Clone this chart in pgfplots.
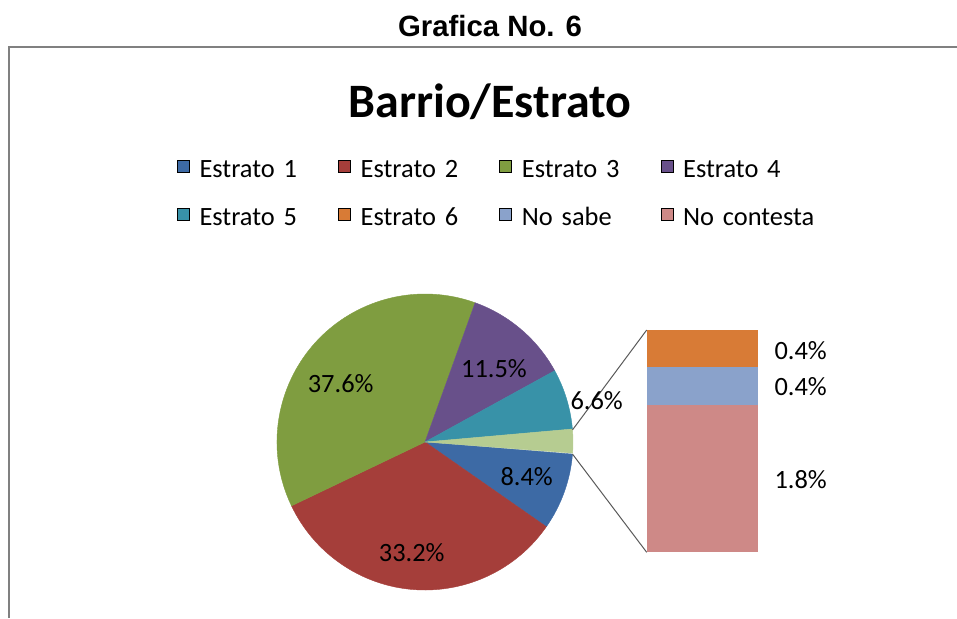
\documentclass[border=0pt]{standalone}
\usepackage{pgfplots}
\pgfplotsset{compat=1.18}
\usepackage{fontspec}
\setmainfont{Carlito}
\newfontfamily\arialfont{Liberation Sans}
\definecolor{c1}{RGB}{61,106,165}
\definecolor{c2}{RGB}{165,62,58}
\definecolor{c3}{RGB}{127,157,64}
\definecolor{c4}{RGB}{104,80,138}
\definecolor{c5}{RGB}{56,146,168}
\definecolor{c6}{RGB}{216,123,54}
\definecolor{c7}{RGB}{138,162,203}
\definecolor{c8}{RGB}{206,137,135}
\definecolor{c9}{RGB}{182,204,145}
\begin{document}
\begin{tikzpicture}
\begin{axis}[
  x=0.75pt, y=0.75pt,
  xmin=0, xmax=957, ymin=0, ymax=618,
  hide axis, clip=false, no markers,
  anchor=south west, at={(0,0)},
  legend image code/.code={\fill[#1] (0pt,-0.8pt) rectangle (9pt,8.2pt); \path (16.5pt,0pt);},
  legend columns=4,
  legend cell align=left,
  legend style={draw=none, fill=none, at={(axis cs:177,458.7)}, anchor=north west,
    inner sep=0pt, outer sep=0pt, column sep=0pt, row sep=18pt,
    font=\fontsize{19.8}{23}\selectfont,
    nodes={text width=104pt, inner xsep=0pt, inner ysep=0pt, text height=14pt, text depth=4pt,
      align=left, execute at begin node={\hyphenpenalty=10000\raggedright}}},
]
% legend
\addlegendimage{fill=c1}\addlegendentry{Estrato 1}
\addlegendimage{fill=c2}\addlegendentry{Estrato 2}
\addlegendimage{fill=c3}\addlegendentry{Estrato 3}
\addlegendimage{fill=c4}\addlegendentry{Estrato 4}
\addlegendimage{fill=c5}\addlegendentry{Estrato 5}
\addlegendimage{fill=c6}\addlegendentry{Estrato 6}
\addlegendimage{fill=c7}\addlegendentry{No sabe}
\addlegendimage{fill=c8}\addlegendentry{No contesta}

% pie: Estrato 1..5 and the combined "other" slice (2.6%)
\xdef\angA{-4.68}
\foreach \v/\c in {8.4/c1,33.2/c2,37.6/c3,11.5/c4,6.6/c5,2.6/c9} {
  \pgfmathsetmacro\angB{\angA-3.6*\v}
  \edef\tmp{\noexpand\fill[\c, draw=\c, line width=0.3pt] (axis cs:425,176) -- ++(\angA:111pt) arc[start angle=\angA, end angle=\angB, radius=111pt] -- cycle;}
  \tmp
  \xdef\angA{\angB}
}

% connector lines
\addplot[color=black!65, line width=0.75pt] coordinates {(572.5,188.1) (646.7,288)};
\addplot[color=black!65, line width=0.75pt] coordinates {(572.5,163.9) (646.7,65.7)};

% bar of pie
\addplot[fill=c6, draw=none] coordinates {(646.7,250.7) (757.7,250.7) (757.7,288) (646.7,288)} -- cycle;
\addplot[fill=c7, draw=none] coordinates {(646.7,213.3) (757.7,213.3) (757.7,250.7) (646.7,250.7)} -- cycle;
\addplot[fill=c8, draw=none] coordinates {(646.7,65.7) (757.7,65.7) (757.7,213.3) (646.7,213.3)} -- cycle;

% chart border
\addplot[color=black!50, line width=1.5pt] coordinates {(9,0) (9,571) (957,571)};

% titles
\node[font=\arialfont\bfseries\fontsize{22}{26}\selectfont, anchor=base] at (axis cs:490,581) {Grafica No. 6};
\node[font=\bfseries\fontsize{36}{43}\selectfont, anchor=base] at (axis cs:490,500) {Barrio/Estrato};

% data labels
\begin{scope}[every node/.style={font=\fontsize{19.8}{23}\selectfont, anchor=base, inner sep=0pt}]
\node at (axis cs:340.7,225.5) {37.6\%};
\node at (axis cs:494,240.2) {11.5\%};
\node at (axis cs:596.7,208.8) {6.6\%};
\node at (axis cs:526.7,132.2) {8.4\%};
\node at (axis cs:411.7,56.2) {33.2\%};
\node at (axis cs:800.7,258.8) {0.4\%};
\node at (axis cs:800.7,222.2) {0.4\%};
\node at (axis cs:800.7,129.5) {1.8\%};
\end{scope}
\end{axis}
\pgfresetboundingbox
\path[use as bounding box] (0,0) rectangle (717.75pt,463.5pt);
\end{tikzpicture}
\end{document}
